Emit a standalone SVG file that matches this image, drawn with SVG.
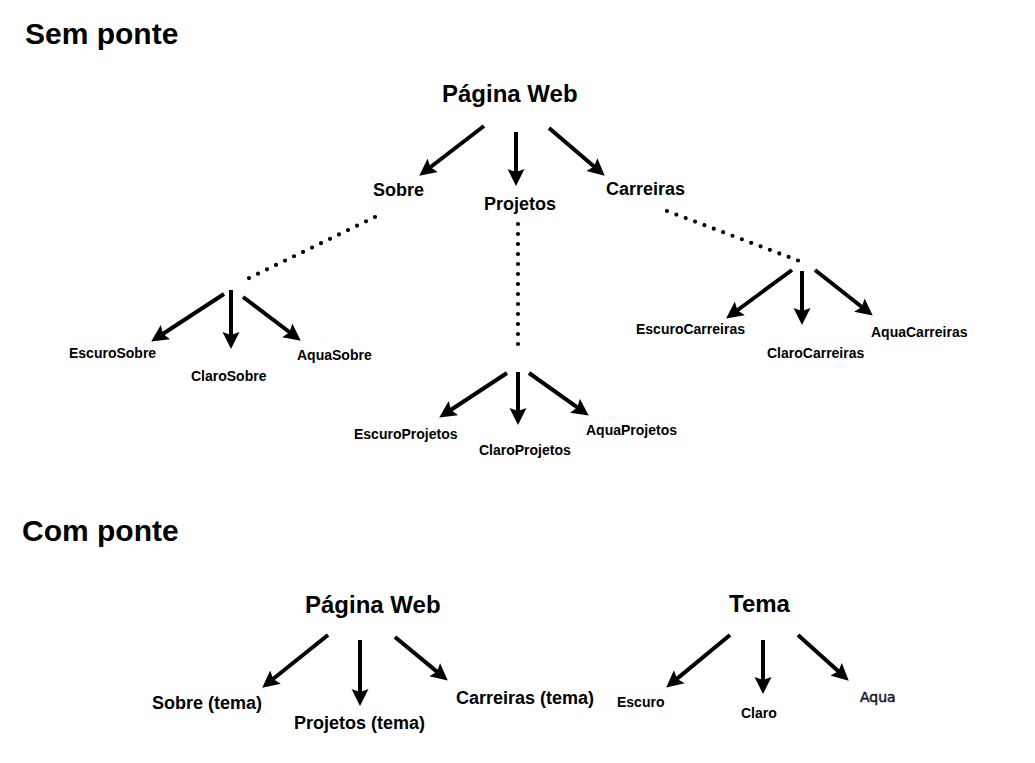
<svg xmlns="http://www.w3.org/2000/svg" width="1035" height="763" viewBox="0 0 1035 763">
<style>
text{font-family:"Liberation Sans",Arial,sans-serif;font-weight:bold;fill:#000}
.title{font-size:30px}
.root{font-size:24px}
.mid{font-size:18px}
.leaf{font-size:14px}
.aqua{font-family:"DejaVu Sans",sans-serif;font-weight:normal;font-size:14px;fill:#141420;stroke:#141420;stroke-width:0.5}
.arr{stroke:#000;stroke-width:4;fill:none;marker-end:url(#ah)}
.dot{stroke:#000;stroke-width:4.2;stroke-linecap:round;stroke-dasharray:0 10;fill:none}
</style>
<defs>
<marker id="ah" viewBox="0 0 18 18" refX="6" refY="9" markerWidth="18" markerHeight="18" markerUnits="userSpaceOnUse" orient="auto">
<path d="M0,0.5 L17,9 L0,17.5 L3,9 z" fill="#000"/>
</marker>
</defs>
<rect width="1035" height="763" fill="#fff"/>
<text class="title" x="25" y="44">Sem ponte</text>
<text class="title" x="22" y="541">Com ponte</text>

<g id="connectors">
<line class="arr" x1="484" y1="126" x2="428" y2="169"/>
<line class="arr" x1="516" y1="132" x2="516" y2="175"/>
<line class="arr" x1="549" y1="128" x2="596.4" y2="168.5"/>
<line class="dot" x1="375" y1="217" x2="245" y2="280"/>
<line class="dot" x1="518" y1="224" x2="518" y2="346"/>
<line class="dot" x1="667" y1="211" x2="802" y2="262"/>
<line class="arr" x1="224" y1="294" x2="160.4" y2="335.5"/>
<line class="arr" x1="231" y1="290" x2="231" y2="338"/>
<line class="arr" x1="243" y1="297" x2="292" y2="334"/>
<line class="arr" x1="507" y1="373" x2="448.4" y2="411.5"/>
<line class="arr" x1="518" y1="372" x2="518" y2="414"/>
<line class="arr" x1="529" y1="373" x2="579.8" y2="409.2"/>
<line class="arr" x1="792" y1="270" x2="735" y2="312"/>
<line class="arr" x1="802" y1="271" x2="802" y2="314"/>
<line class="arr" x1="815" y1="270" x2="864.1" y2="308.8"/>
<line class="arr" x1="328" y1="635" x2="270.8" y2="680.8"/>
<line class="arr" x1="360" y1="640" x2="360" y2="695"/>
<line class="arr" x1="395" y1="637" x2="439.3" y2="673.6"/>
<line class="arr" x1="730" y1="635" x2="674.7" y2="680.6"/>
<line class="arr" x1="763" y1="640" x2="763" y2="683"/>
<line class="arr" x1="798" y1="635" x2="840.6" y2="673.3"/>
</g>

<g id="pagina-web-1"><text class="root" x="442" y="102">Página Web</text></g>
<g id="sobre"><text class="mid" x="373" y="196">Sobre</text></g>
<g id="projetos"><text class="mid" x="484" y="210">Projetos</text></g>
<g id="carreiras"><text class="mid" x="606" y="195">Carreiras</text></g>
<g id="escuro-sobre"><text class="leaf" x="69" y="358">EscuroSobre</text></g>
<g id="claro-sobre"><text class="leaf" x="191" y="381">ClaroSobre</text></g>
<g id="aqua-sobre"><text class="leaf" x="297" y="360">AquaSobre</text></g>
<g id="escuro-projetos"><text class="leaf" x="354" y="439">EscuroProjetos</text></g>
<g id="claro-projetos"><text class="leaf" x="479" y="455">ClaroProjetos</text></g>
<g id="aqua-projetos"><text class="leaf" x="586" y="435">AquaProjetos</text></g>
<g id="escuro-carreiras"><text class="leaf" x="636" y="334">EscuroCarreiras</text></g>
<g id="claro-carreiras"><text class="leaf" x="767" y="358">ClaroCarreiras</text></g>
<g id="aqua-carreiras"><text class="leaf" x="871" y="337">AquaCarreiras</text></g>

<g id="pagina-web-2"><text class="root" x="305" y="613">Página Web</text></g>
<g id="sobre-tema"><text class="mid" x="152" y="709">Sobre (tema)</text></g>
<g id="projetos-tema"><text class="mid" x="294" y="729">Projetos (tema)</text></g>
<g id="carreiras-tema"><text class="mid" x="456" y="704">Carreiras (tema)</text></g>
<g id="tema"><text class="root" x="729" y="612">Tema</text></g>
<g id="escuro"><text class="leaf" x="617" y="707">Escuro</text></g>
<g id="claro"><text class="leaf" x="741" y="718">Claro</text></g>
<g id="aqua"><text class="aqua" x="860" y="702">Aqua</text></g>
</svg>
